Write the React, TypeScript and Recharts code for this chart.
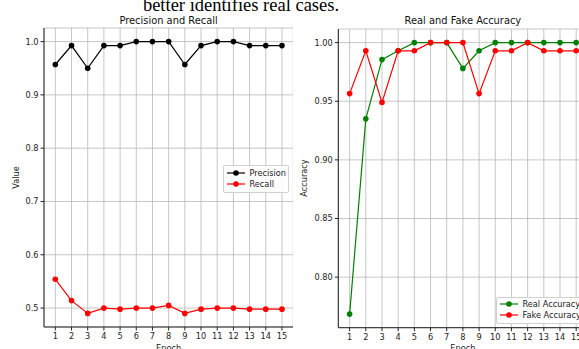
import React from 'react';
import { LineChart, Line, XAxis, YAxis, CartesianGrid } from 'recharts';

const epochs = [1, 2, 3, 4, 5, 6, 7, 8, 9, 10, 11, 12, 13, 14, 15];
const precision = [0.957, 0.9925, 0.95, 0.9925, 0.9925, 1.0, 1.0, 1.0, 0.957, 0.9925, 1.0, 1.0, 0.9925, 0.9925, 0.9925];
const recall = [0.554, 0.514, 0.49, 0.5, 0.498, 0.5, 0.5, 0.505, 0.49, 0.498, 0.5, 0.5, 0.498, 0.498, 0.498];
const realAccuracy = [0.7685, 0.935, 0.9855, 0.993, 1.0, 1.0, 1.0, 0.978, 0.993, 1.0, 1.0, 1.0, 1.0, 1.0, 1.0];
const fakeAccuracy = [0.9565, 0.993, 0.949, 0.993, 0.993, 1.0, 1.0, 1.0, 0.9565, 0.993, 0.993, 1.0, 0.993, 0.993, 0.993];

const leftTicks = [0.5, 0.6, 0.7, 0.8, 0.9, 1.0];
const rightTicks = [0.8, 0.85, 0.9, 0.95, 1.0];

const leftSeries = [
  { key: 'precision', name: 'Precision', color: '#000000' },
  { key: 'recall', name: 'Recall', color: '#ff0000' },
];
const rightSeries = [
  { key: 'real', name: 'Real Accuracy', color: '#008000' },
  { key: 'fake', name: 'Fake Accuracy', color: '#ff0000' },
];

const leftData = epochs.map((e, i) => ({ epoch: e, precision: precision[i], recall: recall[i] }));
const rightData = epochs.map((e, i) => ({ epoch: e, real: realAccuracy[i], fake: fakeAccuracy[i] }));

const FONT = '"DejaVu Sans", sans-serif';
const AX = '#222222';
const TICK_FONT = 8.2;

type Series = { key: string; name: string; color: string };

function Panel(props: {
  data: any[];
  series: Series[];
  left: number;
  width: number;
  marginTop: number;
  yAxisWidth: number;
  xAxisHeight: number;
  yDomain: [number, number];
  yTicks: number[];
  digits: number;
}) {
  const { data, series, left, width, marginTop, yAxisWidth, xAxisHeight, yDomain, yTicks, digits } = props;
  const tickStyle = { fontSize: TICK_FONT, fill: '#222', fontFamily: FONT };
  return (
    <div style={{ position: 'absolute', left, top: 0 }}>
      <LineChart width={width} height={349} data={data} margin={{ top: marginTop, right: 0, bottom: 0, left: 0 }}>
        <CartesianGrid stroke="#b8b8b8" strokeWidth={0.8} />
        <XAxis
          dataKey="epoch"
          type="number"
          domain={[0.3, 15.7]}
          ticks={epochs}
          interval={0}
          height={xAxisHeight}
          tickSize={3.5}
          tickMargin={2.5}
          tick={tickStyle}
          stroke={AX}
          allowDataOverflow
        />
        <XAxis xAxisId="top" orientation="top" type="number" domain={[0.3, 15.7]} height={0} tick={false} tickLine={false} stroke={AX} />
        <YAxis
          type="number"
          domain={yDomain}
          ticks={yTicks}
          interval={0}
          width={yAxisWidth}
          tickSize={3.5}
          tickMargin={2}
          tick={tickStyle}
          tickFormatter={(v: number) => v.toFixed(digits)}
          stroke={AX}
          allowDataOverflow
        />
        <YAxis yAxisId="right" orientation="right" width={0} tick={false} tickLine={false} stroke={AX} />
        {series.map((s) => (
          <Line
            key={s.key}
            dataKey={s.key}
            name={s.name}
            stroke={s.color}
            strokeWidth={1.2}
            dot={{ r: 2.8, fill: s.color, stroke: s.color, strokeWidth: 0 }}
            isAnimationActive={false}
          />
        ))}
      </LineChart>
    </div>
  );
}

function LegendBox(props: { left: number; top: number; width: number; height: number; items: Series[] }) {
  const { left, top, width, height, items } = props;
  return (
    <div
      style={{
        position: 'absolute',
        left,
        top,
        width,
        height,
        boxSizing: 'border-box',
        border: '1px solid #d0d0d0',
        borderRadius: 2,
        background: 'rgba(255,255,255,0.85)',
      }}
    >
      {items.map((s, i) => (
        <div key={s.key} style={{ position: 'absolute', left: 0, top: 6.5 + i * 11.4 - 6, height: 12, width: '100%' }}>
          <svg width={24} height={12} style={{ position: 'absolute', left: 2.5, top: 0 }}>
            <line x1={1} y1={6} x2={19} y2={6} stroke={s.color} strokeWidth={1.2} />
            <circle cx={10} cy={6} r={2.8} fill={s.color} />
          </svg>
          <span
            style={{
              position: 'absolute',
              left: 26,
              top: 0,
              lineHeight: '12px',
              fontSize: TICK_FONT,
              fontFamily: FONT,
              color: '#222',
              whiteSpace: 'nowrap',
            }}
          >
            {s.name}
          </span>
        </div>
      ))}
    </div>
  );
}

export default function App() {
  return (
    <div style={{ position: 'fixed', left: 0, top: 0, width: 579, height: 349, overflow: 'hidden', background: '#fff' }}>
      <Panel
        data={leftData}
        series={leftSeries}
        left={0}
        width={293.3}
        marginTop={28}
        yAxisWidth={44}
        xAxisHeight={22}
        yDomain={[0.4645, 1.0255]}
        yTicks={leftTicks}
        digits={1}
      />
      <Panel
        data={rightData}
        series={rightSeries}
        left={290}
        width={297.5}
        marginTop={29}
        yAxisWidth={48.3}
        xAxisHeight={21.3}
        yDomain={[0.7569, 1.0116]}
        yTicks={rightTicks}
        digits={2}
      />
      <LegendBox left={222.5} top={165} width={66.5} height={27.7} items={leftSeries} />
      <LegendBox left={495.5} top={296.5} width={92} height={27.7} items={rightSeries} />
      <svg width={579} height={349} style={{ position: 'absolute', left: 0, top: 0, pointerEvents: 'none' }}>
        <text x={241} y={10.5} textAnchor="middle" fontFamily='"Liberation Serif", serif' fontSize={18.5} fill="#000">
          better identifies real cases.
        </text>
        <text x={168.6} y={23.5} textAnchor="middle" fontFamily={FONT} fontSize={9.9} fill="#111">
          Precision and Recall
        </text>
        <text x={462.9} y={23.5} textAnchor="middle" fontFamily={FONT} fontSize={9.9} fill="#111">
          Real and Fake Accuracy
        </text>
        <text x={19} y={177.5} textAnchor="middle" fontFamily={FONT} fontSize={TICK_FONT} fill="#222" transform="rotate(-90 19 177.5)">
          Value
        </text>
        <text x={306.5} y={178} textAnchor="middle" fontFamily={FONT} fontSize={TICK_FONT} fill="#222" transform="rotate(-90 306.5 178)">
          Accuracy
        </text>
        <text x={168.6} y={351} textAnchor="middle" fontFamily={FONT} fontSize={TICK_FONT} fill="#222">
          Epoch
        </text>
        <text x={462.9} y={351} textAnchor="middle" fontFamily={FONT} fontSize={TICK_FONT} fill="#222">
          Epoch
        </text>
      </svg>
    </div>
  );
}
